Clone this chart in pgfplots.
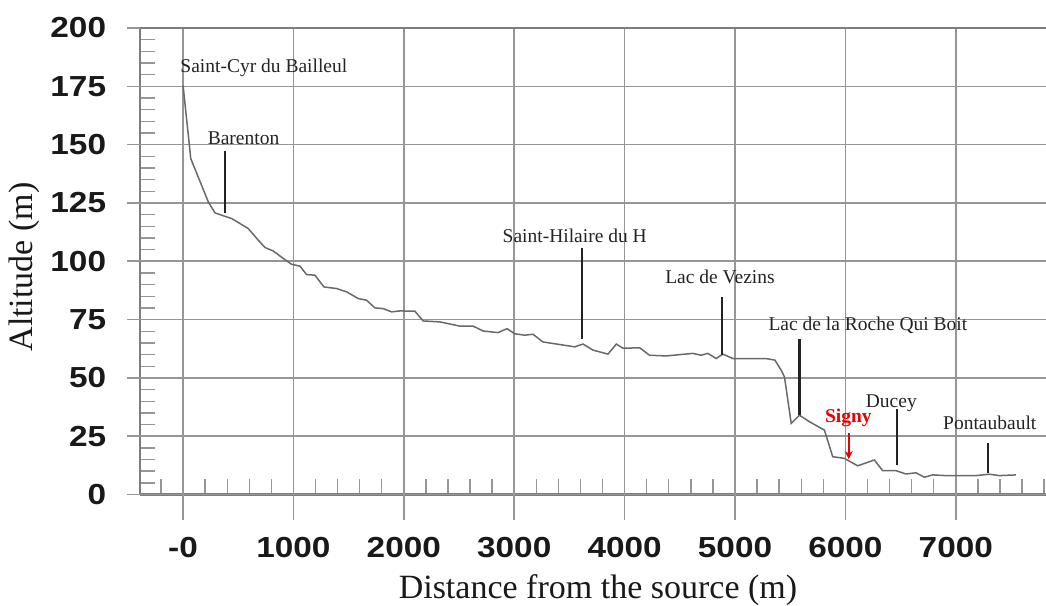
\documentclass[border=0pt]{standalone}
\usepackage{fontspec}
\setmainfont{Liberation Serif}
\newfontfamily\tickfont[FakeStretch=1.15]{Liberation Sans}
\usepackage{pgfplots}
\pgfplotsset{compat=1.18}
\usetikzlibrary{arrows.meta}
\definecolor{gridc}{RGB}{150,150,150}
\definecolor{axc}{RGB}{125,125,125}
\definecolor{profc}{RGB}{105,105,105}
\definecolor{pointc}{RGB}{35,35,35}
\definecolor{signyred}{RGB}{230,0,0}
\begin{document}
\begin{tikzpicture}
\useasboundingbox (-70bp,-55.75bp) rectangle (453bp,247.25bp);
\begin{axis}[
  at={(0,0)}, anchor=south west,
  scale only axis, width=453bp, height=233.25bp,
  xmin=-390, xmax=7817, ymin=0, ymax=200,
  axis x line*=bottom, axis y line*=left,
  axis line style={draw=axc, line width=1.2bp, -},
  tick align=inside, major tick length=7.5bp,
  tick style={draw=gridc, line width=0.7bp},
  xtick={-200,200,400,600,800,1200,1400,1600,1800,2200,2400,2600,2800,3200,3400,3600,3800,4200,4400,4600,4800,5200,5400,5600,5800,6200,6400,6600,6800,7200,7400,7600,7800},
  ytick={5,10,15,20,30,35,40,45,55,60,65,70,80,85,90,95,105,110,115,120,130,135,140,145,155,160,165,170,180,185,190,195},
  xticklabels={}, yticklabels={},
  extra x ticks={0,1000,2000,3000,4000,5000,6000,7000},
  extra x tick labels={-0,1000,2000,3000,4000,5000,6000,7000},
  extra x tick style={grid=major, tick align=outside, major tick length=12.5bp,
     major grid style={draw=gridc, line width=0.75bp},
     tick style={draw=gridc, line width=0.75bp},
     xticklabel style={anchor=north, inner sep=0pt, yshift=-8.5bp}},
  extra y ticks={0,25,50,75,100,125,150,175,200},
  extra y tick labels={0,25,50,75,100,125,150,175,200},
  extra y tick style={grid=major, tick align=outside, major tick length=6.5bp,
     major grid style={draw=gridc, line width=0.75bp},
     tick style={draw=gridc, line width=0.75bp},
     yticklabel style={anchor=east, inner sep=0pt, xshift=-10.25bp}},
  ticklabel style={font=\tickfont\bfseries\fontsize{14.5bp}{16bp}\selectfont, text=black!90},
  xlabel={Distance from the source (m)},
  ylabel={Altitude (m)},
  label style={font=\fontsize{17bp}{20bp}\selectfont, text=black!90},
  xlabel style={at={(axis description cs:0.5055,-0.2047)}, anchor=center},
  ylabel style={at={(axis description cs:-0.128,0.4877)}, anchor=center},
  clip=false,
]
\draw[axc, line width=1.2bp] (rel axis cs:0,1) -- (rel axis cs:1,1);
\addplot[profc, line width=0.75bp, mark=none] coordinates {
(0,175.4) (70,144.0) (229,125.4) (290,120.7) (441,118.3) (591,114.0) (682,109.0)
(742,105.9) (817,104.4) (908,101.2) (983,98.7) (1059,97.9) (1119,94.3) (1195,94.0)
(1276,89.0) (1391,88.3) (1481,86.9) (1587,84.0) (1662,83.3) (1738,80.0) (1813,79.7)
(1889,78.3) (1964,78.7) (2100,78.6) (2175,74.4) (2326,74.0) (2507,72.2) (2627,72.2)
(2718,70.1) (2853,69.4) (2935,71.1) (3005,68.9) (3095,68.3) (3170,68.7) (3260,65.4)
(3412,64.3) (3548,63.3) (3623,64.5) (3713,61.9) (3849,60.2) (3925,64.5) (3985,62.7)
(4136,62.9) (4226,59.7) (4377,59.4) (4618,60.5) (4693,59.7) (4754,60.5) (4829,58.3)
(4890,60.2) (4980,58.3) (5280,58.3) (5362,57.6) (5418,53.3) (5448,50.4) (5509,30.5)
(5584,34.0) (5674,31.2) (5810,27.6) (5885,16.2) (5991,15.5) (6111,12.3) (6262,14.8)
(6338,10.2) (6459,10.2) (6549,8.8) (6640,9.3) (6715,7.4) (6790,8.4) (6911,8.1)
(7182,8.1) (7303,8.7) (7394,8.1) (7545,8.4)
};
% annotations
\begin{scope}[every node/.style={font=\fontsize{9.75bp}{11bp}\selectfont, text=pointc, inner sep=0pt}]
\node[anchor=west] at (axis cs:-27,183.1) {Saint-Cyr du Bailleul};
\node at (axis cs:548,152.7) {Barenton};
\node at (axis cs:3548,111.1) {Saint-Hilaire du H};
\node at (axis cs:4864,93.1) {Lac de Vezins};
\node at (axis cs:6204,72.6) {Lac de la Roche Qui Boit};
\node at (axis cs:6416,39.2) {Ducey};
\node at (axis cs:7308,30.6) {Pontaubault};
\node[text=signyred, font=\bfseries\fontsize{9.75bp}{11bp}\selectfont] at (axis cs:6027,32.8) {Signy};
\end{scope}
\begin{scope}[pointc, line width=1.1bp]
\draw (axis cs:382,147.1) -- (axis cs:382,120.6);
\draw (axis cs:3614,105.6) -- (axis cs:3614,66.6);
\draw (axis cs:4884,84.6) -- (axis cs:4884,59.7);
\draw (axis cs:5584,66.6) -- (axis cs:5584,34.0);
\draw (axis cs:6464,36.6) -- (axis cs:6464,12.6);
\draw (axis cs:7291,22.1) -- (axis cs:7291,9.2);
\end{scope}
\draw[signyred, line width=1bp, -{Stealth[length=4bp,width=4bp]}] (axis cs:6030,26.3) -- (axis cs:6030,15.2);
\end{axis}
\end{tikzpicture}
\end{document}
